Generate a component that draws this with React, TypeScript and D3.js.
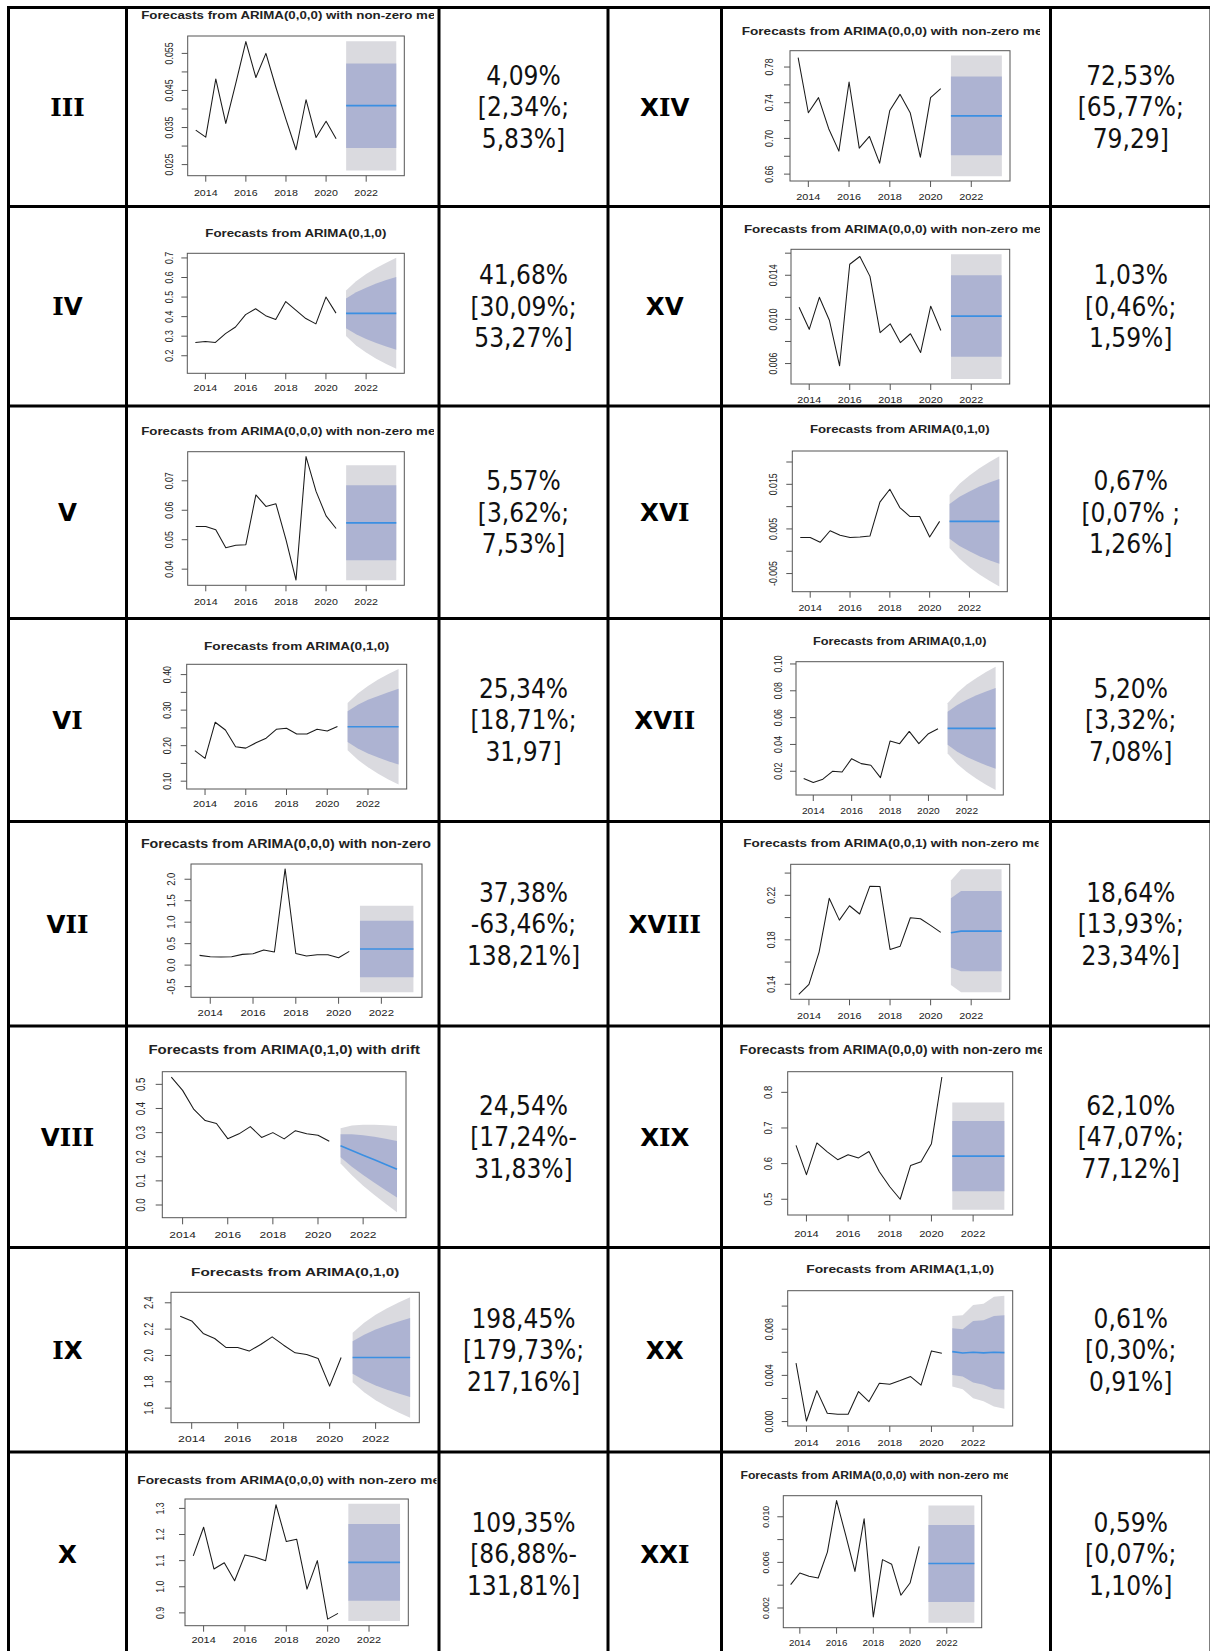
import React from "react";
import * as d3 from "d3";

// ---------- time axis ----------
const obsYears = [2013.5, 2014, 2014.5, 2015, 2015.5, 2016, 2016.5, 2017, 2017.5, 2018, 2018.5, 2019, 2019.5, 2020, 2020.5];
const fcYears = [2021, 2021.5, 2022, 2022.5, 2023, 2023.5];
const xTickYears = [2014, 2016, 2018, 2020, 2022];

// ---------- III ----------
const obsIII = [0.0343, 0.0324, 0.0481, 0.0361, 0.047, 0.0582, 0.0485, 0.055, 0.0458, 0.0372, 0.029, 0.0425, 0.0323, 0.0367, 0.032];
const meanIII = [0.0409, 0.0409, 0.0409, 0.0409, 0.0409, 0.0409];
const lo80III = [0.0295, 0.0295, 0.0295, 0.0295, 0.0295, 0.0295];
const hi80III = [0.0523, 0.0523, 0.0523, 0.0523, 0.0523, 0.0523];
const lo95III = [0.0234, 0.0234, 0.0234, 0.0234, 0.0234, 0.0234];
const hi95III = [0.0583, 0.0583, 0.0583, 0.0583, 0.0583, 0.0583];
const yTicksIII = [0.025, 0.03, 0.035, 0.04, 0.045, 0.05, 0.055];
const yLabelsIII = ["0.025", "", "0.035", "", "0.045", "", "0.055"];
const valueIII = ["4,09%", "[2,34%;", "5,83%]"];

// ---------- IV ----------
const obsIV = [0.268, 0.273, 0.268, 0.313, 0.347, 0.41, 0.44, 0.405, 0.385, 0.477, 0.433, 0.39, 0.363, 0.5, 0.418];
const meanIV = [0.4168, 0.4168, 0.4168, 0.4168, 0.4168, 0.4168];
const lo80IV = [0.341, 0.31, 0.285, 0.265, 0.247, 0.231];
const hi80IV = [0.493, 0.524, 0.548, 0.569, 0.587, 0.603];
const lo95IV = [0.301, 0.253, 0.216, 0.185, 0.158, 0.133];
const hi95IV = [0.533, 0.581, 0.618, 0.649, 0.676, 0.701];
const yTicksIV = [0.2, 0.3, 0.4, 0.5, 0.6, 0.7];
const yLabelsIV = ["0.2", "0.3", "0.4", "0.5", "0.6", "0.7"];
const valueIV = ["41,68%", "[30,09%;", "53,27%]"];

// ---------- V ----------
const obsV = [0.0545, 0.0545, 0.0534, 0.0473, 0.0481, 0.0483, 0.0652, 0.0613, 0.0622, 0.05, 0.0363, 0.0782, 0.0664, 0.0581, 0.0538];
const meanV = [0.0557, 0.0557, 0.0557, 0.0557, 0.0557, 0.0557];
const lo80V = [0.043, 0.043, 0.043, 0.043, 0.043, 0.043];
const hi80V = [0.0685, 0.0685, 0.0685, 0.0685, 0.0685, 0.0685];
const lo95V = [0.0362, 0.0362, 0.0362, 0.0362, 0.0362, 0.0362];
const hi95V = [0.0753, 0.0753, 0.0753, 0.0753, 0.0753, 0.0753];
const yTicksV = [0.04, 0.05, 0.06, 0.07];
const yLabelsV = ["0.04", "0.05", "0.06", "0.07"];
const valueV = ["5,57%", "[3,62%;", "7,53%]"];

// ---------- VI ----------
const obsVI = [0.186, 0.164, 0.266, 0.244, 0.197, 0.193, 0.208, 0.221, 0.246, 0.249, 0.233, 0.233, 0.246, 0.241, 0.254];
const meanVI = [0.2534, 0.2534, 0.2534, 0.2534, 0.2534, 0.2534];
const lo80VI = [0.21, 0.192, 0.178, 0.167, 0.156, 0.147];
const hi80VI = [0.297, 0.315, 0.329, 0.34, 0.35, 0.36];
const lo95VI = [0.187, 0.16, 0.139, 0.121, 0.105, 0.091];
const hi95VI = [0.32, 0.347, 0.368, 0.386, 0.402, 0.416];
const yTicksVI = [0.1, 0.15, 0.2, 0.25, 0.3, 0.35, 0.4];
const yLabelsVI = ["0.10", "", "0.20", "", "0.30", "", "0.40"];
const valueVI = ["25,34%", "[18,71%;", "31,97]"];

// ---------- VII ----------
const obsVII = [0.227, 0.195, 0.19, 0.195, 0.25, 0.265, 0.35, 0.305, 2.24, 0.27, 0.21, 0.24, 0.24, 0.17, 0.32];
const meanVII = [0.3738, 0.3738, 0.3738, 0.3738, 0.3738, 0.3738];
const lo80VII = [-0.2855, -0.2855, -0.2855, -0.2855, -0.2855, -0.2855];
const hi80VII = [1.0331, 1.0331, 1.0331, 1.0331, 1.0331, 1.0331];
const lo95VII = [-0.6346, -0.6346, -0.6346, -0.6346, -0.6346, -0.6346];
const hi95VII = [1.3821, 1.3821, 1.3821, 1.3821, 1.3821, 1.3821];
const yTicksVII = [-0.5, 0, 0.5, 1, 1.5, 2];
const yLabelsVII = ["-0.5", "0.0", "0.5", "1.0", "1.5", "2.0"];
const valueVII = ["37,38%", "-63,46%;", "138,21%]"];

// ---------- VIII ----------
const obsVIII = [0.53, 0.475, 0.396, 0.35, 0.338, 0.275, 0.295, 0.325, 0.28, 0.3, 0.274, 0.308, 0.295, 0.289, 0.264];
const meanVIII = [0.2454, 0.226, 0.2066, 0.1872, 0.1678, 0.1484];
const lo80VIII = [0.198, 0.1585, 0.124, 0.0918, 0.0611, 0.0316];
const hi80VIII = [0.293, 0.2935, 0.2892, 0.2826, 0.2745, 0.2652];
const lo95VIII = [0.1724, 0.1229, 0.0803, 0.0414, 0.0048, -0.0302];
const hi95VIII = [0.3183, 0.3291, 0.3329, 0.333, 0.3308, 0.327];
const yTicksVIII = [0, 0.1, 0.2, 0.3, 0.4, 0.5];
const yLabelsVIII = ["0.0", "0.1", "0.2", "0.3", "0.4", "0.5"];
const valueVIII = ["24,54%", "[17,24%-", "31,83%]"];

// ---------- IX ----------
const obsIX = [2.298, 2.262, 2.167, 2.129, 2.06, 2.06, 2.033, 2.083, 2.141, 2.078, 2.02, 2.008, 1.977, 1.767, 1.985];
const meanIX = [1.9845, 1.9845, 1.9845, 1.9845, 1.9845, 1.9845];
const lo80IX = [1.862, 1.811, 1.772, 1.74, 1.711, 1.685];
const hi80IX = [2.107, 2.158, 2.197, 2.229, 2.258, 2.284];
const lo95IX = [1.797, 1.72, 1.66, 1.61, 1.566, 1.526];
const hi95IX = [2.172, 2.249, 2.309, 2.359, 2.403, 2.443];
const yTicksIX = [1.6, 1.8, 2.0, 2.2, 2.4];
const yLabelsIX = ["1.6", "1.8", "2.0", "2.2", "2.4"];
const valueIX = ["198,45%", "[179,73%;", "217,16%]"];

// ---------- X ----------
const obsX = [1.118, 1.228, 1.068, 1.092, 1.023, 1.122, 1.113, 1.1, 1.314, 1.173, 1.182, 0.991, 1.1, 0.876, 0.898];
const meanX = [1.0935, 1.0935, 1.0935, 1.0935, 1.0935, 1.0935];
const lo80X = [0.9466, 0.9466, 0.9466, 0.9466, 0.9466, 0.9466];
const hi80X = [1.2404, 1.2404, 1.2404, 1.2404, 1.2404, 1.2404];
const lo95X = [0.8688, 0.8688, 0.8688, 0.8688, 0.8688, 0.8688];
const hi95X = [1.3181, 1.3181, 1.3181, 1.3181, 1.3181, 1.3181];
const yTicksX = [0.9, 1.0, 1.1, 1.2, 1.3];
const yLabelsX = ["0.9", "1.0", "1.1", "1.2", "1.3"];
const valueX = ["109,35%", "[86,88%-", "131,81%]"];

// ---------- XIV ----------
const obsXIV = [0.7905, 0.7288, 0.7457, 0.7109, 0.6858, 0.7632, 0.6891, 0.7022, 0.6723, 0.7314, 0.7494, 0.7288, 0.679, 0.7457, 0.7557];
const meanXIV = [0.7253, 0.7253, 0.7253, 0.7253, 0.7253, 0.7253];
const lo80XIV = [0.6811, 0.6811, 0.6811, 0.6811, 0.6811, 0.6811];
const hi80XIV = [0.7695, 0.7695, 0.7695, 0.7695, 0.7695, 0.7695];
const lo95XIV = [0.6577, 0.6577, 0.6577, 0.6577, 0.6577, 0.6577];
const hi95XIV = [0.7929, 0.7929, 0.7929, 0.7929, 0.7929, 0.7929];
const yTicksXIV = [0.66, 0.68, 0.7, 0.72, 0.74, 0.76, 0.78];
const yLabelsXIV = ["0.66", "", "0.70", "", "0.74", "", "0.78"];
const valueXIV = ["72,53%", "[65,77%;", "79,29]"];

// ---------- XV ----------
const obsXV = [0.0111, 0.0091, 0.012, 0.0099, 0.0058, 0.015, 0.0157, 0.0139, 0.0088, 0.0096, 0.0079, 0.0087, 0.007, 0.0112, 0.009];
const meanXV = [0.0103, 0.0103, 0.0103, 0.0103, 0.0103, 0.0103];
const lo80XV = [0.00661, 0.00661, 0.00661, 0.00661, 0.00661, 0.00661];
const hi80XV = [0.01399, 0.01399, 0.01399, 0.01399, 0.01399, 0.01399];
const lo95XV = [0.0046, 0.0046, 0.0046, 0.0046, 0.0046, 0.0046];
const hi95XV = [0.0159, 0.0159, 0.0159, 0.0159, 0.0159, 0.0159];
const yTicksXV = [0.006, 0.008, 0.01, 0.012, 0.014, 0.016];
const yLabelsXV = ["0.006", "", "0.010", "", "0.014", ""];
const valueXV = ["1,03%", "[0,46%;", "1,59%]"];

// ---------- XVI ----------
const obsXVI = [0.0031, 0.0031, 0.002, 0.0046, 0.0036, 0.0031, 0.0032, 0.0034, 0.011, 0.0139, 0.0098, 0.0078, 0.0078, 0.0032, 0.0067];
const meanXVI = [0.0067, 0.0067, 0.0067, 0.0067, 0.0067, 0.0067];
const lo80XVI = [0.0028, 0.0012, 0.0, -0.0011, -0.002, -0.0028];
const hi80XVI = [0.0106, 0.0122, 0.0134, 0.0145, 0.0154, 0.0162];
const lo95XVI = [0.0007, -0.0017, -0.0036, -0.0052, -0.0066, -0.0079];
const hi95XVI = [0.0126, 0.0151, 0.017, 0.0186, 0.02, 0.0213];
const yTicksXVI = [-0.005, 0, 0.005, 0.01, 0.015, 0.02];
const yLabelsXVI = ["-0.005", "", "0.005", "", "0.015", ""];
const valueXVI = ["0,67%", "[0,07% ;", "1,26%]"];

// ---------- XVII ----------
const obsXVII = [0.0146, 0.0116, 0.0141, 0.02, 0.0195, 0.0294, 0.0257, 0.0245, 0.0153, 0.0425, 0.0406, 0.0497, 0.0406, 0.048, 0.0517];
const meanXVII = [0.052, 0.052, 0.052, 0.052, 0.052, 0.052];
const lo80XVII = [0.0397, 0.0346, 0.0307, 0.0274, 0.0245, 0.0219];
const hi80XVII = [0.0643, 0.0694, 0.0733, 0.0766, 0.0795, 0.0821];
const lo95XVII = [0.0332, 0.0254, 0.0194, 0.0144, 0.01, 0.006];
const hi95XVII = [0.0708, 0.0786, 0.0846, 0.0896, 0.094, 0.098];
const yTicksXVII = [0.02, 0.04, 0.06, 0.08, 0.1];
const yLabelsXVII = ["0.02", "0.04", "0.06", "0.08", "0.10"];
const valueXVII = ["5,20%", "[3,32%;", "7,08%]"];

// ---------- XVIII ----------
const obsXVIII = [0.131, 0.14, 0.169, 0.2173, 0.1977, 0.2106, 0.2032, 0.2281, 0.228, 0.1713, 0.1743, 0.1998, 0.1989, 0.193, 0.1867];
const meanXVIII = [0.1864, 0.1878, 0.1878, 0.1878, 0.1878, 0.1878];
const lo80XVIII = [0.1551, 0.1518, 0.1518, 0.1518, 0.1518, 0.1518];
const hi80XVIII = [0.2173, 0.2239, 0.2239, 0.2239, 0.2239, 0.2239];
const lo95XVIII = [0.1393, 0.1329, 0.1329, 0.1329, 0.1329, 0.1329];
const hi95XVIII = [0.2334, 0.2434, 0.2434, 0.2434, 0.2434, 0.2434];
const yTicksXVIII = [0.14, 0.16, 0.18, 0.2, 0.22, 0.24];
const yLabelsXVIII = ["0.14", "", "0.18", "", "0.22", ""];
const valueXVIII = ["18,64%", "[13,93%;", "23,34%]"];

// ---------- XIX ----------
const obsXIX = [0.651, 0.569, 0.658, 0.633, 0.611, 0.625, 0.616, 0.634, 0.577, 0.535, 0.5, 0.595, 0.605, 0.656, 0.843];
const meanXIX = [0.621, 0.621, 0.621, 0.621, 0.621, 0.621];
const lo80XIX = [0.5228, 0.5228, 0.5228, 0.5228, 0.5228, 0.5228];
const hi80XIX = [0.7193, 0.7193, 0.7193, 0.7193, 0.7193, 0.7193];
const lo95XIX = [0.4707, 0.4707, 0.4707, 0.4707, 0.4707, 0.4707];
const hi95XIX = [0.7712, 0.7712, 0.7712, 0.7712, 0.7712, 0.7712];
const yTicksXIX = [0.5, 0.6, 0.7, 0.8];
const yLabelsXIX = ["0.5", "0.6", "0.7", "0.8"];
const valueXIX = ["62,10%", "[47,07%;", "77,12%]"];

// ---------- XX ----------
const obsXX = [0.00506, 0.00005, 0.00268, 0.00072, 0.00064, 0.00064, 0.0026, 0.00173, 0.00332, 0.00324, 0.00355, 0.0039, 0.00315, 0.00612, 0.00592];
const meanXX = [0.00606, 0.00594, 0.006, 0.00595, 0.006, 0.00597];
const lo80XX = [0.00404, 0.0039, 0.00338, 0.00318, 0.00283, 0.00275];
const hi80XX = [0.00809, 0.008, 0.00872, 0.00877, 0.00915, 0.0092];
const lo95XX = [0.00303, 0.0028, 0.00202, 0.00177, 0.0013, 0.0011];
const hi95XX = [0.00915, 0.0092, 0.0101, 0.0102, 0.0108, 0.0109];
const yTicksXX = [0, 0.002, 0.004, 0.006, 0.008, 0.01];
const yLabelsXX = ["0.000", "", "0.004", "", "0.008", ""];
const valueXX = ["0,61%", "[0,30%;", "0,91%]"];

// ---------- XXI ----------
const obsXXI = [0.00405, 0.00507, 0.00478, 0.00463, 0.0069, 0.01142, 0.00836, 0.00521, 0.00982, 0.00122, 0.00624, 0.00583, 0.00312, 0.00419, 0.0074];
const meanXXI = [0.0059, 0.0059, 0.0059, 0.0059, 0.0059, 0.0059];
const lo80XXI = [0.00253, 0.00253, 0.00253, 0.00253, 0.00253, 0.00253];
const hi80XXI = [0.00927, 0.00927, 0.00927, 0.00927, 0.00927, 0.00927];
const lo95XXI = [0.0007, 0.0007, 0.0007, 0.0007, 0.0007, 0.0007];
const hi95XXI = [0.011, 0.011, 0.011, 0.011, 0.011, 0.011];
const yTicksXXI = [0.002, 0.004, 0.006, 0.008, 0.01];
const yLabelsXXI = ["0.002", "", "0.006", "", "0.010"];
const valueXXI = ["0,59%", "[0,07%;", "1,10%]"];

// ---------- titles ----------
const T000 = "Forecasts from ARIMA(0,0,0) with non-zero mean";
const T010 = "Forecasts from ARIMA(0,1,0)";

// ---------- plots (built from the arrays above) ----------
const plots = [
  { id: "III", title: T000, obs: obsIII, mean: meanIII, lo80: lo80III, hi80: hi80III, lo95: lo95III, hi95: hi95III, yTicks: yTicksIII, yLabels: yLabelsIII, value: valueIII },
  { id: "IV", title: T010, obs: obsIV, mean: meanIV, lo80: lo80IV, hi80: hi80IV, lo95: lo95IV, hi95: hi95IV, yTicks: yTicksIV, yLabels: yLabelsIV, value: valueIV },
  { id: "V", title: T000, obs: obsV, mean: meanV, lo80: lo80V, hi80: hi80V, lo95: lo95V, hi95: hi95V, yTicks: yTicksV, yLabels: yLabelsV, value: valueV },
  { id: "VI", title: T010, obs: obsVI, mean: meanVI, lo80: lo80VI, hi80: hi80VI, lo95: lo95VI, hi95: hi95VI, yTicks: yTicksVI, yLabels: yLabelsVI, value: valueVI },
  { id: "VII", title: T000, obs: obsVII, mean: meanVII, lo80: lo80VII, hi80: hi80VII, lo95: lo95VII, hi95: hi95VII, yTicks: yTicksVII, yLabels: yLabelsVII, value: valueVII },
  { id: "VIII", title: "Forecasts from ARIMA(0,1,0) with drift", obs: obsVIII, mean: meanVIII, lo80: lo80VIII, hi80: hi80VIII, lo95: lo95VIII, hi95: hi95VIII, yTicks: yTicksVIII, yLabels: yLabelsVIII, value: valueVIII },
  { id: "IX", title: T010, obs: obsIX, mean: meanIX, lo80: lo80IX, hi80: hi80IX, lo95: lo95IX, hi95: hi95IX, yTicks: yTicksIX, yLabels: yLabelsIX, value: valueIX },
  { id: "X", title: T000, obs: obsX, mean: meanX, lo80: lo80X, hi80: hi80X, lo95: lo95X, hi95: hi95X, yTicks: yTicksX, yLabels: yLabelsX, value: valueX },
  { id: "XIV", title: T000, obs: obsXIV, mean: meanXIV, lo80: lo80XIV, hi80: hi80XIV, lo95: lo95XIV, hi95: hi95XIV, yTicks: yTicksXIV, yLabels: yLabelsXIV, value: valueXIV },
  { id: "XV", title: T000, obs: obsXV, mean: meanXV, lo80: lo80XV, hi80: hi80XV, lo95: lo95XV, hi95: hi95XV, yTicks: yTicksXV, yLabels: yLabelsXV, value: valueXV },
  { id: "XVI", title: T010, obs: obsXVI, mean: meanXVI, lo80: lo80XVI, hi80: hi80XVI, lo95: lo95XVI, hi95: hi95XVI, yTicks: yTicksXVI, yLabels: yLabelsXVI, value: valueXVI },
  { id: "XVII", title: T010, obs: obsXVII, mean: meanXVII, lo80: lo80XVII, hi80: hi80XVII, lo95: lo95XVII, hi95: hi95XVII, yTicks: yTicksXVII, yLabels: yLabelsXVII, value: valueXVII },
  { id: "XVIII", title: "Forecasts from ARIMA(0,0,1) with non-zero mean", obs: obsXVIII, mean: meanXVIII, lo80: lo80XVIII, hi80: hi80XVIII, lo95: lo95XVIII, hi95: hi95XVIII, yTicks: yTicksXVIII, yLabels: yLabelsXVIII, value: valueXVIII },
  { id: "XIX", title: T000, obs: obsXIX, mean: meanXIX, lo80: lo80XIX, hi80: hi80XIX, lo95: lo95XIX, hi95: hi95XIX, yTicks: yTicksXIX, yLabels: yLabelsXIX, value: valueXIX },
  { id: "XX", title: "Forecasts from ARIMA(1,1,0)", obs: obsXX, mean: meanXX, lo80: lo80XX, hi80: hi80XX, lo95: lo95XX, hi95: hi95XX, yTicks: yTicksXX, yLabels: yLabelsXX, value: valueXX },
  { id: "XXI", title: T000, obs: obsXXI, mean: meanXXI, lo80: lo80XXI, hi80: hi80XXI, lo95: lo95XXI, hi95: hi95XXI, yTicks: yTicksXXI, yLabels: yLabelsXXI, value: valueXXI },
];

// ---------- layout (page pixels) ----------
const colX = [8.5, 126.5, 439, 608, 721.5, 1050.5, 1211];
const rowY = [7.5, 206.5, 406, 618.5, 821.5, 1026, 1247.5, 1452, 1656];

// per plot: box [x0,y0,x1,y1], title centre y, font scale, horizontal stretch, clip right, label gaps
const layout: Record<string, any> = {
  III: { box: [187.7, 36, 404.3, 175.7], ty: 15, s: 1, sx: 1.21, clipR: 434, yGap: 14.4, xGap: 17.6 },
  IV: { box: [187.3, 253.3, 404.3, 373.3], ty: 233.3, s: 1, sx: 1.208, clipR: 0, yGap: 14, xGap: 15 },
  V: { box: [187.7, 451.7, 404.3, 585.3], ty: 431, s: 1, sx: 1.21, clipR: 434, yGap: 15, xGap: 16.4 },
  VI: { box: [186.7, 664.3, 406.7, 789], ty: 645.7, s: 1, sx: 1.236, clipR: 0, yGap: 15.7, xGap: 15.3 },
  VII: { box: [191, 864, 422, 997.3], ty: 844, s: 1.08, sx: 1.198, clipR: 433, yGap: 16, xGap: 15.7 },
  VIII: { box: [162.3, 1071.7, 406, 1217.7], ty: 1050, s: 1.1, sx: 1.238, clipR: 0, yGap: 17.3, xGap: 17.3 },
  IX: { box: [171, 1292.3, 419.3, 1422.7], ty: 1272.3, s: 1.03, sx: 1.35, clipR: 0, yGap: 17.7, xGap: 15.6 },
  X: { box: [185, 1499, 408.3, 1625.7], ty: 1480, s: 1, sx: 1.245, clipR: 436.5, yGap: 21, xGap: 14.3 },
  XIV: { box: [790, 50.7, 1010, 181], ty: 30.7, s: 1, sx: 1.236, clipR: 1040, yGap: 16.7, xGap: 15.7 },
  XV: { box: [791, 249.3, 1009.7, 384], ty: 229.3, s: 1, sx: 1.223, clipR: 1040, yGap: 14.3, xGap: 16 },
  XVI: { box: [792.3, 451, 1007.3, 591.7], ty: 429.3, s: 1, sx: 1.2, clipR: 0, yGap: 15.7, xGap: 16.6 },
  XVII: { box: [796, 661.7, 1003.3, 795], ty: 640.7, s: 1, sx: 1.158, clipR: 0, yGap: 14.3, xGap: 16 },
  XVIII: { box: [790.7, 864.3, 1009.7, 999.3], ty: 843.3, s: 1, sx: 1.226, clipR: 1038.5, yGap: 15.7, xGap: 16.7 },
  XIX: { box: [787.7, 1071.7, 1012.7, 1215], ty: 1050, s: 1.08, sx: 1.162, clipR: 1042, yGap: 16, xGap: 19 },
  XX: { box: [787.7, 1290.7, 1012.7, 1426], ty: 1269.3, s: 1, sx: 1.255, clipR: 0, yGap: 14.4, xGap: 16.7 },
  XXI: { box: [783.3, 1495.7, 981.7, 1627.7], ty: 1475, s: 1, sx: 1.109, clipR: 1008, yGap: 14.3, xGap: 15.6 },
};

const RFONT = "'Liberation Sans', Arial, sans-serif";
const INK = "#222";

function ForecastPlot({ p, lay, clip }: any) {
  const [x0, y0, x1, y1] = lay.box;
  const s = lay.s;
  const fsT = 11 * s;
  const fsA = 8.8 * s;
  const tl = 6 * s;
  const xe = d3.extent([...obsYears, ...fcYears]) as [number, number];
  const xp = (xe[1] - xe[0]) * 0.04;
  const x = d3.scaleLinear().domain([xe[0] - xp, xe[1] + xp]).range([x0, x1]);
  const ye = d3.extent([...p.obs, ...p.lo95, ...p.hi95]) as [number, number];
  const yp = (ye[1] - ye[0]) * 0.04;
  const y = d3.scaleLinear().domain([ye[0] - yp, ye[1] + yp]).range([y1, y0]);

  const band = (lo: number[], hi: number[]) =>
    d3.area<number>().x((d) => x(d)).y0((d, i) => y(lo[i])).y1((d, i) => y(hi[i]))(fcYears) || "";
  const obsLine = d3.line<number>().x((d, i) => x(obsYears[i])).y((d) => y(d))(p.obs) || "";
  const meanLine = d3.line<number>().x((d, i) => x(fcYears[i])).y((d) => y(d))(p.mean) || "";
  const cx = (x0 + x1) / 2;

  return (
    <g clipPath={`url(#${clip})`}>
      <text
        transform={`translate(${cx},${lay.ty + fsT * 0.358}) scale(${lay.sx},1)`}
        textAnchor="middle"
        fontFamily={RFONT}
        fontWeight="bold"
        fontSize={fsT}
        fill={INK}
      >
        {p.title}
      </text>
      <path d={band(p.lo95, p.hi95)} fill="#dadadf" />
      <path d={band(p.lo80, p.hi80)} fill="#adb3d2" />
      <path d={meanLine} fill="none" stroke="#3b8fe2" strokeWidth={1.6} />
      <path d={obsLine} fill="none" stroke="#1a1a1a" strokeWidth={1.05} strokeLinejoin="round" />
      <rect x={x0} y={y0} width={x1 - x0} height={y1 - y0} fill="none" stroke="#555" strokeWidth={1} />
      {xTickYears.map((t) => (
        <g key={`x${t}`}>
          <line x1={x(t)} x2={x(t)} y1={y1} y2={y1 + tl} stroke="#555" strokeWidth={1} />
          <text
            transform={`translate(${x(t)},${y1 + lay.xGap + fsA * 0.358}) scale(${lay.sx},1)`}
            textAnchor="middle"
            fontFamily={RFONT}
            fontSize={fsA}
            fill={INK}
          >
            {String(t)}
          </text>
        </g>
      ))}
      {p.yTicks.map((t: number, i: number) => (
        <g key={`y${i}`}>
          <line x1={x0} x2={x0 - tl} y1={y(t)} y2={y(t)} stroke="#555" strokeWidth={1} />
          {p.yLabels[i] ? (
            <text
              transform={`translate(${x0 - lay.yGap},${y(t)}) scale(${lay.sx},1) rotate(-90)`}
              textAnchor="middle"
              fontFamily={RFONT}
              fontSize={fsA}
              fill={INK}
            >
              {p.yLabels[i]}
            </text>
          ) : null}
        </g>
      ))}
    </g>
  );
}

function Roman({ text, x, y }: any) {
  return (
    <text x={x} y={y} textAnchor="middle" fontSize={24.5} fontWeight="bold" fill="#000">
      {text.split("").map((c: string, i: number) => (
        <tspan key={i} fontFamily={c === "I" ? "'DejaVu Serif', serif" : "'DejaVu Sans', sans-serif"}>
          {c}
        </tspan>
      ))}
    </text>
  );
}

function ValueText({ lines, x, cy }: any) {
  const fs = 26;
  const lh = 31.5;
  return (
    <text
      textAnchor="middle"
      fontFamily="'DejaVu Sans Condensed', 'DejaVu Sans', sans-serif"
      style={{ fontStretch: "condensed" }}
      fontSize={fs}
      fill="#111"
    >
      {lines.map((l: string, i: number) => (
        <tspan key={i} x={x} y={cy + (i - 1) * lh + fs * 0.364}>
          {l}
        </tspan>
      ))}
    </text>
  );
}

export default function App() {
  return (
    <svg
      width={1210}
      height={1651}
      style={{ position: "absolute", left: 0, top: 0, background: "#fff" }}
      xmlns="http://www.w3.org/2000/svg"
    >
      <rect x={0} y={0} width={1210} height={1651} fill="#fff" />
      <defs>
        {plots.map((p, k) => {
          const side = k < 8 ? 0 : 1;
          const r = k % 8;
          const lay = layout[p.id];
          const cl = colX[1 + side * 3] + 1.5;
          const cr = lay.clipR || colX[2 + side * 3] - 1.5;
          return (
            <clipPath id={`clip${p.id}`} key={p.id}>
              <rect x={cl} y={rowY[r] + 1.5} width={cr - cl} height={rowY[r + 1] - rowY[r] - 3} />
            </clipPath>
          );
        })}
      </defs>
      {plots.map((p, k) => {
        const side = k < 8 ? 0 : 1;
        const r = k % 8;
        const cy = (rowY[r] + rowY[r + 1]) / 2;
        const romanX = (colX[side * 3] + colX[side * 3 + 1]) / 2;
        const valX = (colX[side * 3 + 2] + colX[side * 3 + 3]) / 2;
        return (
          <g key={p.id}>
            <Roman text={p.id} x={romanX} y={cy + 24.5 * 0.364} />
            <ForecastPlot p={p} lay={layout[p.id]} clip={`clip${p.id}`} />
            <ValueText lines={p.value} x={valX} cy={cy} />
          </g>
        );
      })}
      {colX.map((cx, i) => (
        <line key={`c${i}`} x1={cx} x2={cx} y1={rowY[0] - 1.5} y2={rowY[rowY.length - 1]} stroke="#000" strokeWidth={3} />
      ))}
      {rowY.map((ry, i) => (
        <line key={`r${i}`} x1={colX[0] - 1.5} x2={colX[colX.length - 1]} y1={ry} y2={ry} stroke="#000" strokeWidth={3} />
      ))}
    </svg>
  );
}
